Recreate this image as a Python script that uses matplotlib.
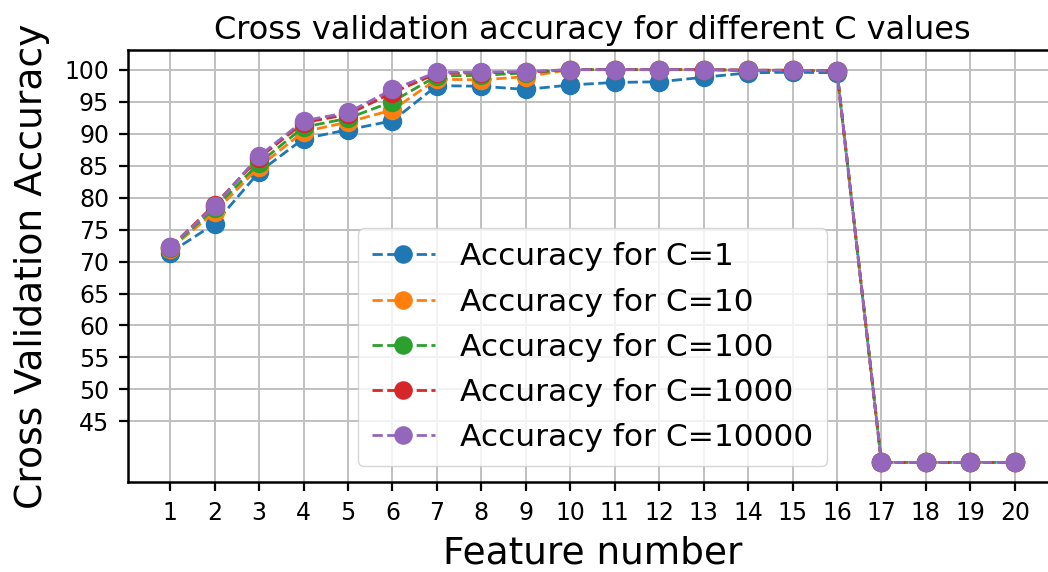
import matplotlib
matplotlib.use("Agg")
import matplotlib.pyplot as plt
import numpy as np

features = np.arange(1, 21)
c_values = [1, 10, 100, 1000, 10000]

acc_c1 = [71.4, 75.9, 84.0, 89.2, 90.6, 92.0, 97.5, 97.4, 96.9, 97.6,
          98.0, 98.1, 98.8, 99.5, 99.6, 99.5, 38.6, 38.6, 38.6, 38.6]
acc_c10 = [72.0, 77.7, 84.8, 90.3, 91.8, 93.7, 98.5, 98.4, 98.9, 100.0,
           100.0, 100.0, 100.0, 99.9, 99.9, 99.8, 38.6, 38.6, 38.6, 38.6]
acc_c100 = [72.1, 78.3, 85.4, 91.0, 92.4, 95.0, 99.0, 99.1, 99.5, 100.0,
            100.0, 100.0, 100.0, 99.9, 99.9, 99.8, 38.6, 38.6, 38.6, 38.6]
acc_c1000 = [72.2, 78.9, 86.2, 91.7, 93.0, 96.4, 99.4, 99.5, 99.6, 100.0,
             100.0, 100.0, 100.0, 99.9, 99.9, 99.8, 38.6, 38.6, 38.6, 38.6]
acc_c10000 = [72.2, 78.7, 86.5, 92.0, 93.3, 96.9, 99.6, 99.6, 99.7, 100.0,
              100.0, 100.0, 100.0, 99.9, 99.9, 99.8, 38.6, 38.6, 38.6, 38.6]

series = [acc_c1, acc_c10, acc_c100, acc_c1000, acc_c10000]
yticks = np.arange(45, 101, 5)

fig = plt.figure(figsize=(10.48, 5.72), dpi=100)
ax = fig.add_axes([0.1221, 0.1573, 0.8865, 0.7553])

for c, acc in zip(c_values, series):
    ax.plot(features, acc, '--o', markersize=13, linewidth=2,
            label=f'Accuracy for C={c}')

ax.set_title('Cross validation accuracy for different C values', fontsize=23, pad=8)
ax.set_xlabel('Feature number', fontsize=27, labelpad=8)
ax.set_ylabel('Cross Validation Accuracy', fontsize=27.2, labelpad=10)
ax.set_xticks(features)
ax.set_yticks(yticks)
ax.tick_params(labelsize=17, length=6.5, width=1.6, pad=7)
ax.grid(True, color='#c0c0c0', linewidth=1.4)
for side in ['left', 'bottom', 'top']:
    ax.spines[side].set_linewidth(1.8)
ax.spines['right'].set_visible(False)

ax.legend(fontsize=22.5, loc='lower center', bbox_to_anchor=(0.5, 0.0),
          handlelength=2.0, markerscale=0.95, borderpad=0.45,
          labelspacing=0.52, handletextpad=0.8, framealpha=0.8)

fig.savefig('out.png', dpi=100)
